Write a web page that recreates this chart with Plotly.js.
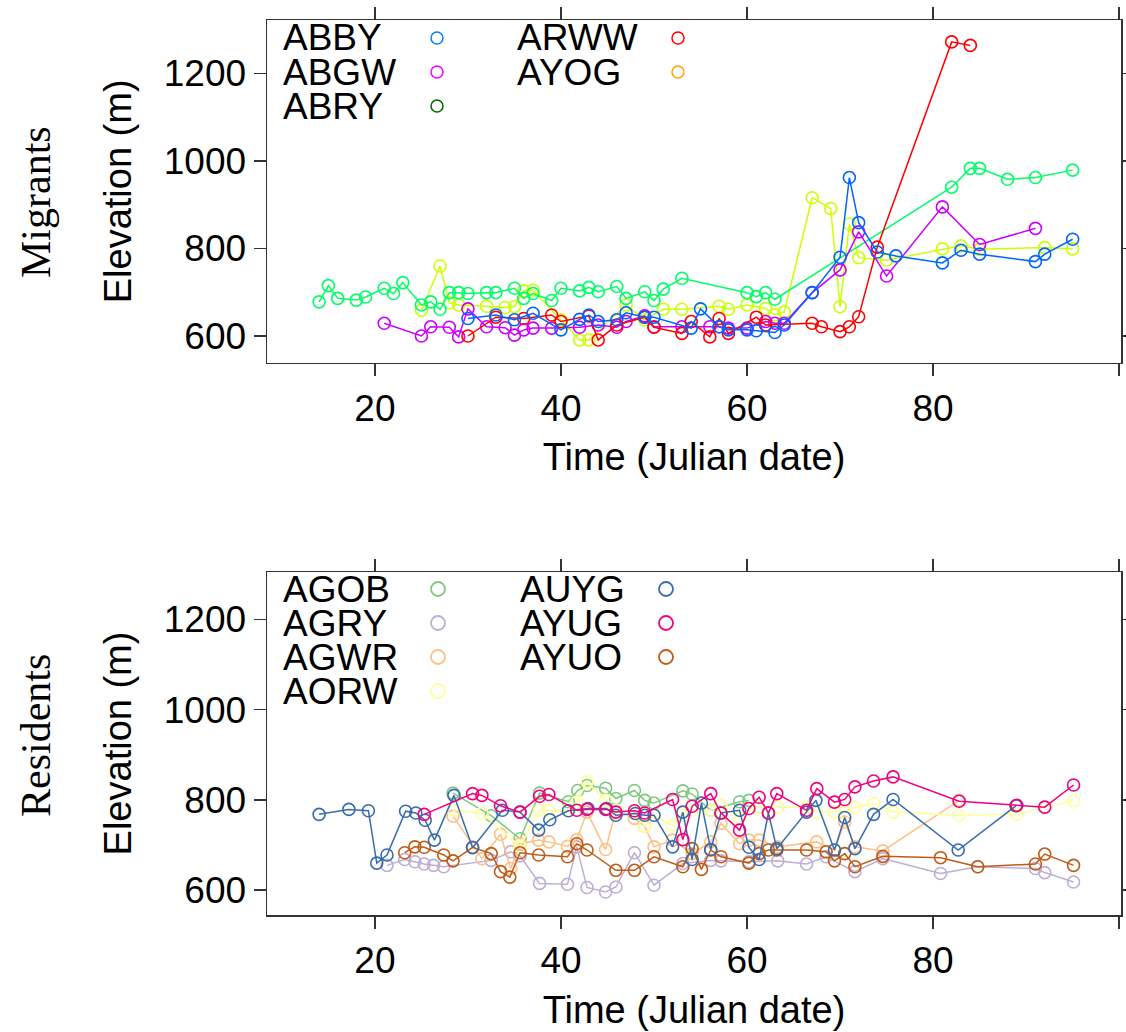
<!DOCTYPE html>
<html>
<head>
<meta charset="utf-8">
<script src="https://cdn.plot.ly/plotly-3.0.1.min.js"></script>
<style>html,body{margin:0;padding:0;background:#fff;}#chart{width:1126px;height:1032px;}</style>
</head>
<body>
<div id="chart"></div>
<script>
// ---------------- DATA ----------------
// Migrants panel
const migrantNames = ["ABBY", "ABGW", "ABRY", "ARWW", "AYOG"];
const migrantLegendColors = ["#0080ff", "#ff00ff", "#006400", "#ff0000", "#ffa500"];
const migrantLineColors = ["#0066FF", "#CC00FF", "#00FF66", "#FF0000", "#CCFF00"];

const abbyX = [30, 33, 35, 37, 40, 42, 43, 44, 46, 47, 49, 50, 54, 55, 57, 58, 60, 61, 63, 64, 67, 70, 71, 72, 74, 76, 81, 83, 85, 91, 92, 95];
const abbyY = [640, 648, 637, 652, 614, 638, 648, 633, 637, 653, 643, 643, 618, 662, 621, 614, 614, 612, 608, 625, 699, 780, 962, 859, 792, 783, 767, 796, 787, 770, 787, 821];

const abgwX = [21, 25, 26, 28, 29, 30, 32, 34, 35, 36, 37, 39, 42, 44, 46, 47, 49, 50, 53, 56, 57, 58, 60, 62, 63, 64, 67, 70, 72, 75, 81, 85, 91];
const abgwY = [629, 600, 621, 620, 598, 662, 621, 619, 602, 614, 618, 618, 620, 625, 620, 633, 646, 621, 621, 621, 621, 618, 618, 633, 629, 629, 699, 751, 838, 737, 895, 809, 846];

const abryX = [14, 15, 16, 18, 19, 21, 22, 23, 25, 26, 27, 28, 29, 30, 32, 33, 35, 36, 37, 39, 40, 42, 43, 44, 46, 47, 49, 50, 51, 53, 60, 61, 62, 63, 82, 84, 85, 88, 91, 95];
const abryY = [678, 715, 686, 682, 689, 709, 697, 722, 671, 678, 661, 699, 699, 697, 699, 699, 709, 686, 697, 681, 709, 703, 711, 701, 713, 686, 701, 681, 707, 732, 699, 690, 699, 684, 940, 983, 983, 958, 962, 979];

const arwwX = [30, 33, 36, 39, 40, 43, 44, 46, 49, 50, 53, 54, 56, 57, 58, 61, 62, 67, 68, 70, 71, 72, 74, 82, 84];
const arwwY = [600, 643, 640, 648, 633, 646, 591, 625, 643, 620, 606, 633, 598, 640, 606, 643, 625, 629, 621, 610, 621, 644, 803, 1272, 1264];

const ayogX = [25, 27, 28, 29, 32, 34, 35, 36, 37, 40, 42, 43, 47, 49, 51, 53, 57, 58, 60, 62, 63, 64, 67, 69, 70, 71, 72, 75, 81, 83, 85, 92, 95];
const ayogY = [659, 760, 676, 671, 668, 665, 667, 703, 705, 637, 591, 591, 671, 637, 661, 661, 668, 661, 671, 663, 648, 655, 916, 891, 667, 856, 779, 773, 799, 806, 798, 802, 799];

// Residents panel
const residentNames = ["AGOB", "AGRY", "AGWR", "AORW", "AUYG", "AYUG", "AYUO"];
const residentColors = ["#7FC97F", "#BEAED4", "#FDC086", "#FFFF99", "#386CB0", "#F0027F", "#BF5B17"];

const agobX = [28.4, 32.5, 35.6, 37.7, 40.8, 41.8, 42.8, 44.8, 45.9, 47.9, 49.0, 50.0, 53.1, 54.1, 56.1, 59.2, 60.2];
const agobY = [815, 765, 714, 815, 796, 821, 832, 826, 803, 821, 799, 793, 820, 813, 777, 796, 799];

const agryX = [21.3, 23.2, 24.3, 25.3, 26.3, 27.4, 32.5, 34.6, 35.6, 37.7, 40.7, 41.7, 42.8, 44.8, 45.9, 47.9, 50.0, 53.1, 56.1, 57.2, 60.2, 63.3, 66.4, 68.5, 71.6, 74.6, 80.8, 84.8, 91.0, 92.0, 95.1];
const agryY = [655, 668, 663, 658, 655, 652, 666, 685, 676, 615, 613, 696, 606, 596, 607, 683, 611, 659, 666, 665, 663, 665, 658, 674, 641, 670, 637, 652, 648, 639, 618];

const agwrX = [28.4, 31.5, 33.5, 34.6, 35.6, 37.6, 38.7, 40.7, 41.7, 42.8, 44.8, 45.9, 47.9, 49.0, 50.0, 52.0, 54.1, 56.1, 57.2, 59.2, 60.2, 61.3, 63.3, 67.5, 69.4, 70.5, 71.6, 74.6, 82.8];
const agwrY = [764, 670, 724, 648, 703, 711, 707, 697, 712, 773, 690, 777, 759, 742, 696, 711, 681, 707, 748, 703, 711, 711, 696, 707, 689, 751, 696, 687, 799];

const aorwX = [28.4, 31.5, 35.6, 37.7, 38.7, 40.7, 41.7, 42.8, 44.8, 45.9, 47.9, 49.0, 50.0, 52.0, 53.1, 54.1, 56.1, 57.2, 59.2, 60.2, 61.3, 63.3, 66.4, 67.5, 69.4, 70.5, 71.6, 73.6, 75.7, 82.8, 89.0, 92.0, 95.1];
const aorwY = [778, 770, 697, 777, 776, 777, 795, 840, 799, 777, 773, 742, 766, 744, 766, 777, 777, 788, 760, 781, 784, 784, 784, 773, 773, 773, 784, 792, 773, 766, 768, 784, 798];

const auygX = [14.0, 17.2, 19.3, 20.2, 21.3, 23.3, 24.4, 25.4, 26.4, 28.5, 30.5, 33.7, 35.6, 37.6, 38.8, 40.8, 42.9, 44.9, 45.9, 48.0, 49.0, 50.0, 52.0, 53.1, 54.1, 55.1, 56.1, 57.2, 59.2, 60.2, 61.3, 62.3, 63.2, 66.4, 67.4, 69.4, 70.5, 71.6, 73.6, 75.7, 82.7, 88.9];
const auygY = [768, 779, 776, 660, 678, 775, 771, 755, 711, 810, 694, 777, 773, 733, 756, 776, 781, 781, 766, 770, 766, 766, 696, 773, 668, 793, 690, 771, 777, 695, 668, 771, 692, 773, 799, 689, 761, 692, 768, 801, 689, 787];

const ayugX = [25.3, 30.5, 31.5, 33.5, 35.6, 37.7, 38.7, 41.7, 42.8, 44.8, 45.9, 47.9, 49.0, 52.0, 53.1, 54.1, 56.1, 57.2, 59.2, 60.2, 61.3, 62.3, 63.2, 66.4, 67.5, 69.4, 70.5, 71.6, 73.6, 75.7, 82.8, 89.0, 92.0, 95.1];
const ayugY = [768, 814, 810, 787, 773, 808, 812, 777, 779, 779, 773, 776, 771, 801, 712, 786, 814, 771, 733, 781, 806, 771, 814, 777, 825, 795, 801, 829, 842, 851, 797, 788, 784, 833];

const ayuoX = [23.2, 24.3, 25.3, 27.4, 28.4, 30.5, 32.5, 33.5, 34.5, 35.6, 37.6, 40.7, 41.7, 42.8, 45.9, 47.9, 50.0, 53.1, 54.1, 55.1, 56.1, 57.2, 60.2, 61.3, 62.3, 63.2, 66.4, 68.5, 69.4, 70.5, 71.6, 74.6, 80.8, 84.8, 91.0, 92.0, 95.1];
const ayuoY = [683, 696, 695, 678, 665, 695, 681, 641, 629, 683, 678, 674, 703, 689, 644, 644, 674, 652, 692, 646, 689, 674, 660, 681, 689, 689, 689, 685, 665, 681, 652, 675, 672, 652, 658, 680, 655];

const xTickVals = [20, 40, 60, 80, 100];
const xTickText = ["20", "40", "60", "80", ""];
const yTickVals = [600, 800, 1000, 1200];
const panelLabels = ["Migrants", "Residents"];
const xTitle = "Time (Julian date)";
const yTitle = "Elevation (m)";

// ---------------- LAYOUT HELPERS ----------------
const W = 1126, H = 1032;
const M = {l: 267, r: 5, t: 20, b: 117};
const PW = W - M.l - M.r, PH = H - M.t - M.b;
const fx = px => (px - M.l) / PW;
const fy = py => (H - M.b - py) / PH;

const migrantSeries = [[abbyX, abbyY], [abgwX, abgwY], [abryX, abryY], [arwwX, arwwY], [ayogX, ayogY]];
const residentSeries = [[agobX, agobY], [agryX, agryY], [agwrX, agwrY], [aorwX, aorwY], [auygX, auygY], [ayugX, ayugY], [ayuoX, ayuoY]];

const traces = [];
function mk(xs, ys, color, name, xa, ya) {
  return {
    type: "scatter", mode: "lines+markers", x: xs, y: ys, name: name,
    xaxis: xa, yaxis: ya, showlegend: false,
    line: {color: color, width: 1.5},
    marker: {symbol: "circle-open", size: 12, color: color, line: {color: color, width: 1.6}}
  };
}
[4, 2, 1, 3, 0].forEach(i => traces.push(mk(migrantSeries[i][0], migrantSeries[i][1], migrantLineColors[i], migrantNames[i], "x", "y")));
[0, 1, 2, 3, 6, 4, 5].forEach(i => traces.push(mk(residentSeries[i][0], residentSeries[i][1], residentColors[i], residentNames[i], "x2", "y2")));

const FONT = "Liberation Sans, Arial, sans-serif";
const axisLine = {showline: true, mirror: "ticks", linecolor: "#333333", linewidth: 1.5,
  ticks: "outside", ticklen: 12, tickwidth: 1.5, tickcolor: "#333333",
  showgrid: false, zeroline: false, tickfont: {family: FONT, size: 37, color: "#000"}};

function xa(anchor) {
  return Object.assign({}, axisLine, {anchor: anchor, range: [8.4, 100.2], tickvals: xTickVals, ticktext: xTickText,
    title: {text: xTitle, font: {family: FONT, size: 38, color: "#000"}, standoff: 16}});
}
function ya(anchor, domain, range) {
  return Object.assign({}, axisLine, {anchor: anchor, domain: domain, range: range, tickvals: yTickVals,
    title: {text: yTitle, font: {family: FONT, size: 38, color: "#000"}, standoff: 20}});
}

const annotations = [];
const shapes = [];
annotations.push({xref: "paper", yref: "paper", x: fx(36), y: fy(202), text: panelLabels[0], showarrow: false,
  textangle: -90, xanchor: "center", yanchor: "middle", font: {family: "Liberation Serif, Times New Roman, serif", size: 42, color: "#000"}});
annotations.push({xref: "paper", yref: "paper", x: fx(36), y: fy(735), text: panelLabels[1], showarrow: false,
  textangle: -90, xanchor: "center", yanchor: "middle", font: {family: "Liberation Serif, Times New Roman, serif", size: 42, color: "#000"}});

function legendItem(name, color, tx, cx, cy, r, lw) {
  annotations.push({xref: "paper", yref: "paper", x: fx(tx), y: fy(cy), text: name, showarrow: false,
    xanchor: "left", yanchor: "middle", font: {family: FONT, size: 37, color: "#000"}});
  shapes.push({type: "circle", xref: "paper", yref: "paper", xsizemode: "pixel", ysizemode: "pixel",
    xanchor: fx(cx), yanchor: fy(cy), x0: -r, x1: r, y0: -r, y1: r, line: {color: color, width: lw}});
}
const topRows = [38, 72, 106];
migrantNames.forEach((n, i) => {
  if (i < 3) legendItem(n, migrantLegendColors[i], 281, 437, topRows[i], 6, 1.5);
  else legendItem(n, migrantLegendColors[i], 515, 678, topRows[i - 3], 6, 1.5);
});
const botRows = [589, 623, 657, 691];
residentNames.forEach((n, i) => {
  if (i < 4) legendItem(n, residentColors[i], 281, 438, botRows[i], 7, 1.8);
  else legendItem(n, residentColors[i], 518, 666, botRows[i - 4], 7, 1.8);
});

const layout = {
  width: W, height: H, margin: M, paper_bgcolor: "#fff", plot_bgcolor: "#fff",
  font: {family: FONT, color: "#000"},
  showlegend: false,
  xaxis: xa("y"),
  xaxis2: xa("y2"),
  yaxis: ya("x", [fy(362.7), 1], [539, 1322]),
  yaxis2: ya("x2", [0, fy(572)], [545, 1305]),
  annotations: annotations,
  shapes: shapes
};

Plotly.newPlot("chart", traces, layout, {displayModeBar: false, staticPlot: true});
</script>
</body>
</html>
